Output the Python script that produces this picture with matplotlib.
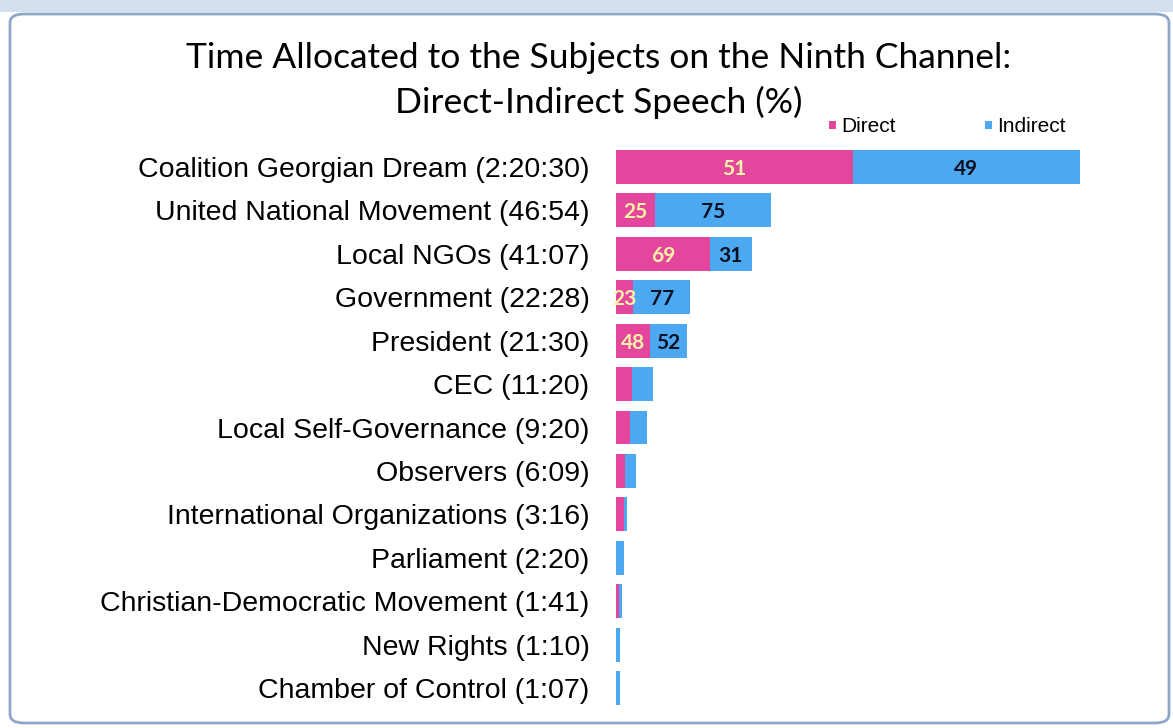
import matplotlib.pyplot as plt
from matplotlib.patches import FancyBboxPatch, Rectangle

# %% data
subjects = ['Coalition Georgian Dream', 'United National Movement', 'Local NGOs',
            'Government', 'President', 'CEC', 'Local Self-Governance', 'Observers',
            'International Organizations', 'Parliament', 'Christian-Democratic Movement',
            'New Rights', 'Chamber of Control']
durations = ['2:20:30', '46:54', '41:07', '22:28', '21:30', '11:20', '9:20', '6:09',
             '3:16', '2:20', '1:41', '1:10', '1:07']
direct_pct = [51, 25, 69, 23, 48, 43, 45, 45, 75, 0, 50, 10, 0]
indirect_pct = [49, 75, 31, 77, 52, 57, 55, 55, 25, 100, 50, 90, 100]
labeled = [True, True, True, True, True] + [False] * 8


def to_seconds(s):
    total = 0
    for part in s.split(':'):
        total = total * 60 + int(part)
    return total


totals = [to_seconds(d) for d in durations]
direct_len = [t * p / 100 for t, p in zip(totals, direct_pct)]
indirect_len = [t * p / 100 for t, p in zip(totals, indirect_pct)]
ylabels = ['%s (%s)' % (s, d) for s, d in zip(subjects, durations)]

pink = '#E2469D'
blue = '#4BA8F1'

# %% figure
W, H = 1173, 728
fig = plt.figure(figsize=(W / 100, H / 100), dpi=100)

# window strip + rounded frame
fig.patches.append(Rectangle((0, 1 - 12 / H), 1, 12 / H, transform=fig.transFigure,
                             facecolor='#D3DEEE', edgecolor='none', zorder=0))
fig.patches.append(FancyBboxPatch((10 / W, 5 / H), (W - 14) / W, (H - 19) / H,
                                  boxstyle='round,pad=0,rounding_size=0.012',
                                  transform=fig.transFigure, facecolor='white',
                                  edgecolor='#8FA6C8', linewidth=2, zorder=1))

# axes: bars start at x=616, biggest bar ends at x=1080
x0, x1 = 616, 1150
ax = fig.add_axes([x0 / W, 1 - 712 / H, (x1 - x0) / W, (712 - 143) / H])
ax.set_zorder(2)
ax.patch.set_alpha(0)
ypos = list(range(len(subjects)))
ax.barh(ypos, direct_len, height=0.78, color=pink)
ax.barh(ypos, indirect_len, left=direct_len, height=0.78, color=blue)
ax.set_xlim(0, totals[0] * (x1 - x0) / (1080 - x0))
ax.set_ylim(len(subjects) - 0.5 + 0.05, -0.5 - 0.05)
ax.set_yticks(ypos)
ax.set_yticklabels(ylabels, fontsize=20.5, family='Liberation Sans')
ax.tick_params(axis='y', length=0, pad=19)
ax.set_xticks([])
for sp in ax.spines.values():
    sp.set_visible(False)

for i in ypos:
    if not labeled[i]:
        continue
    ax.text(direct_len[i] / 2, i + 0.05, str(direct_pct[i]), ha='center', va='center',
            fontsize=15, fontweight='bold', color='#FFF1A8', family='Lato')
    ax.text(direct_len[i] + indirect_len[i] / 2, i + 0.05, str(indirect_pct[i]), ha='center',
            va='center', fontsize=15, fontweight='bold', color='#0B1020', family='Lato')

# title
fig.text(599 / W, 1 - 58 / H, 'Time Allocated to the Subjects on the Ninth Channel:',
         ha='center', va='center', fontsize=25.5, family='Lato')
fig.text(599 / W, 1 - 102 / H, 'Direct-Indirect Speech (%)',
         ha='center', va='center', fontsize=25.5, family='Lato')

# legend
for xl, col, name in [(829, pink, 'Direct'), (985, blue, 'Indirect')]:
    fig.patches.append(Rectangle((xl / W, 1 - 129 / H), 7 / W, 8 / H,
                                 transform=fig.transFigure, facecolor=col,
                                 edgecolor='none', zorder=3))
    fig.text((xl + 12) / W, 1 - 126 / H, name, ha='left', va='center',
             fontsize=15, family='Liberation Sans', zorder=3)

fig.savefig('out.png', dpi=100)
